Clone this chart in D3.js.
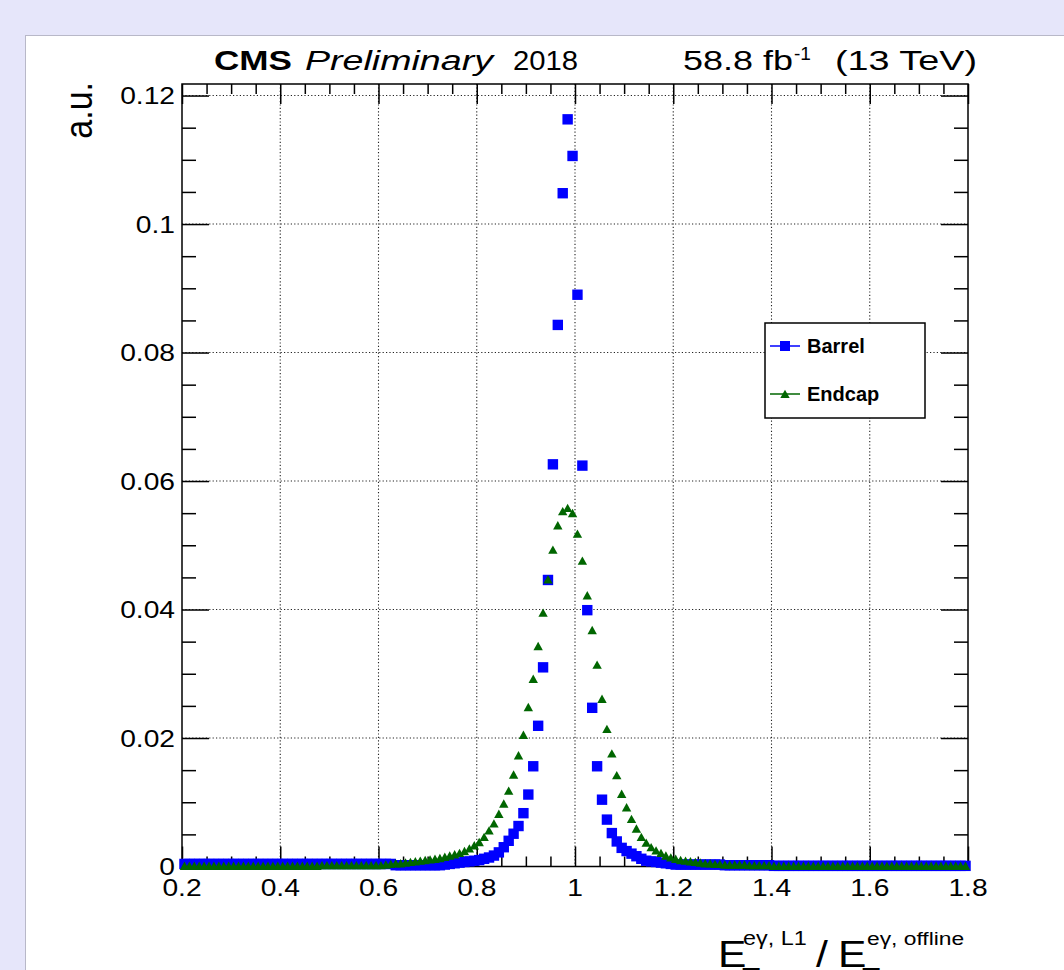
<!DOCTYPE html>
<html>
<head>
<meta charset="utf-8">
<script src="https://cdn.jsdelivr.net/npm/d3@7"></script>
<style>
  body { margin: 0; background: #e6e6fa; }
  svg { display: block; font-family: "Liberation Sans", Arial, sans-serif; }
</style>
</head>
<body>
<svg id="chart" width="1064" height="970"></svg>
<script>
// histogram binning: 160 bins of 0.01 between 0.2 and 1.8
const binLow = 0.2, binWidth = 0.01, nBins = 160;
const binCenters = d3.range(nBins).map(i => binLow + binWidth * (i + 0.5));

// Barrel (blue squares), normalised
const barrel = [
  0.0004, 0.0004, 0.0004, 0.0004, 0.0004, 0.0004, 0.0004, 0.0004, 0.0004, 0.0004,
  0.0004, 0.0004, 0.0004, 0.0004, 0.0004, 0.0004, 0.0004, 0.0004, 0.0004, 0.0004,
  0.0004, 0.0004, 0.0004, 0.0004, 0.0004, 0.0004, 0.0004, 0.0004, 0.0004, 0.0004,
  0.0004, 0.0004, 0.0004, 0.0004, 0.0004, 0.0004, 0.0004, 0.0004, 0.0004, 0.0004,
  0.0004, 0.0004, 0.0004, 0.0002, 0.0002, 0.0002, 0.0002, 0.0002, 0.0002, 0.0002,
  0.0002, 0.0002, 0.0002, 0.0003, 0.0004, 0.0005, 0.0006, 0.0007, 0.0008, 0.0009,
  0.0010, 0.0012, 0.0014, 0.0017, 0.0022, 0.0030, 0.0040, 0.0051, 0.0063, 0.0083,
  0.0112, 0.0156, 0.0219, 0.0310, 0.0446, 0.0626, 0.0843, 0.1048, 0.1163, 0.1106,
  0.0890, 0.0624, 0.0399, 0.0247, 0.0156, 0.0104, 0.0073, 0.0052, 0.0039, 0.0029,
  0.0024, 0.0020, 0.0016, 0.0012, 0.0009, 0.0008, 0.0007, 0.0006, 0.0005, 0.0004,
  0.0003, 0.0003, 0.0003, 0.0003, 0.0003, 0.0003, 0.0003, 0.0003, 0.0003, 0.0003,
  0.0002, 0.0002, 0.0002, 0.0002, 0.0002, 0.0002, 0.0002, 0.0002, 0.0002, 0.0002,
  0.0001, 0.0001, 0.0001, 0.0001, 0.0001, 0.0001, 0.0001, 0.0001, 0.0001, 0.0001,
  0.0001, 0.0001, 0.0001, 0.0001, 0.0001, 0.0001, 0.0001, 0.0001, 0.0001, 0.0001,
  0.0001, 0.0001, 0.0001, 0.0001, 0.0001, 0.0001, 0.0001, 0.0001, 0.0001, 0.0001,
  0.0001, 0.0001, 0.0001, 0.0001, 0.0001, 0.0001, 0.0001, 0.0001, 0.0001, 0.0001
];

// Endcap (green triangles)
const endcap = [
  0.0001, 0.0001, 0.0001, 0.0001, 0.0001, 0.0001, 0.0001, 0.0001, 0.0001, 0.0001,
  0.0001, 0.0001, 0.0001, 0.0001, 0.0001, 0.0001, 0.0001, 0.0001, 0.0001, 0.0001,
  0.0001, 0.0001, 0.0001, 0.0001, 0.0001, 0.0001, 0.0001, 0.0001, 0.0002, 0.0002,
  0.0002, 0.0002, 0.0002, 0.0002, 0.0002, 0.0002, 0.0002, 0.0002, 0.0002, 0.0002,
  0.0002, 0.0003, 0.0004, 0.0005, 0.0005, 0.0006, 0.0007, 0.0008, 0.0009, 0.0010,
  0.0011, 0.0012, 0.0013, 0.0015, 0.0017, 0.0019, 0.0021, 0.0024, 0.0028, 0.0033,
  0.0038, 0.0046, 0.0056, 0.0067, 0.0082, 0.0098, 0.0118, 0.0143, 0.0173, 0.0205,
  0.0248, 0.0292, 0.0343, 0.0395, 0.0447, 0.0493, 0.0531, 0.0553, 0.0558, 0.0550,
  0.0518, 0.0476, 0.0422, 0.0368, 0.0314, 0.0261, 0.0214, 0.0176, 0.0142, 0.0113,
  0.0092, 0.0074, 0.0059, 0.0046, 0.0037, 0.0030, 0.0025, 0.0021, 0.0017, 0.0014,
  0.0012, 0.0010, 0.0009, 0.0008, 0.0007, 0.0006, 0.0005, 0.0005, 0.0004, 0.0004,
  0.0003, 0.0003, 0.0003, 0.0003, 0.0003, 0.0002, 0.0002, 0.0002, 0.0002, 0.0002,
  0.0001, 0.0001, 0.0001, 0.0001, 0.0001, 0.0001, 0.0001, 0.0001, 0.0001, 0.0001,
  0.0001, 0.0001, 0.0001, 0.0001, 0.0001, 0.0001, 0.0001, 0.0001, 0.0001, 0.0001,
  0.0001, 0.0001, 0.0001, 0.0001, 0.0001, 0.0001, 0.0001, 0.0001, 0.0001, 0.0001,
  0.0001, 0.0001, 0.0001, 0.0001, 0.0001, 0.0001, 0.0001, 0.0001, 0.0001, 0.0001
];

const xMajor = [0.2, 0.4, 0.6, 0.8, 1, 1.2, 1.4, 1.6, 1.8];
const xLabels = ["0.2", "0.4", "0.6", "0.8", "1", "1.2", "1.4", "1.6", "1.8"];
const xMinor = d3.range(0.25, 1.8, 0.05).filter(v => Math.abs(v / 0.2 - Math.round(v / 0.2)) > 1e-6);
const yMajor = [0, 0.02, 0.04, 0.06, 0.08, 0.1, 0.12];
const yLabels = ["0", "0.02", "0.04", "0.06", "0.08", "0.1", "0.12"];
const yMinor = d3.range(0.005, 0.1216, 0.005).filter(v => Math.abs(v / 0.02 - Math.round(v / 0.02)) > 1e-6);

const blue = "#0000ff", green = "#006600";
const sx = 1.2; // the picture is stretched sideways

const frame = { left: 182, right: 968, top: 84, bottom: 866.5 };

const svg = d3.select("#chart");

// white canvas
svg.append("rect")
  .attr("x", 25.5).attr("y", 35.5)
  .attr("width", 1040).attr("height", 936)
  .attr("fill", "#fff")
  .attr("stroke", "#b8b8c8");

const x = d3.scaleLinear().domain([0.2, 1.8]).range([frame.left, frame.right]);
const y = d3.scaleLinear().domain([0, 0.1218]).range([frame.bottom, frame.top]);

// stretched text helper
function stext(parent, px, py, str, opts = {}) {
  return parent.append("text")
    .attr("transform", `translate(${px},${py}) scale(${opts.sx || sx},1)` + (opts.rotate ? ` rotate(${opts.rotate})` : ""))
    .attr("text-anchor", opts.anchor || "start")
    .style("font-size", (opts.size || 23.5) + "px")
    .style("font-weight", opts.weight || "normal")
    .style("font-style", opts.style || "normal")
    .attr("fill", "#000")
    .text(str);
}

// text squeezed/stretched to a measured length
function ftext(px, py, str, len, size, weight, style) {
  return svg.append("text")
    .attr("x", px).attr("y", py)
    .attr("textLength", len)
    .attr("lengthAdjust", "spacingAndGlyphs")
    .style("font-size", size + "px")
    .style("font-weight", weight || "normal")
    .style("font-style", style || "normal")
    .attr("fill", "#000")
    .text(str);
}

// grid
const grid = svg.append("g")
  .attr("stroke", "#222")
  .attr("stroke-width", 1.1)
  .attr("stroke-dasharray", "1.2,2.2");
grid.selectAll(".gx").data(xMajor.slice(1, -1)).join("line")
  .attr("x1", d => x(d)).attr("x2", d => x(d))
  .attr("y1", frame.top).attr("y2", frame.bottom);
grid.selectAll(".gy").data(yMajor.slice(1)).join("line")
  .attr("x1", frame.left).attr("x2", frame.right)
  .attr("y1", d => y(d)).attr("y2", d => y(d));

// ticks on all four sides
function ticks(axis, tx, ty, vals, len) {
  const g = svg.append("g")
    .attr("transform", `translate(${tx},${ty})`)
    .call(axis.tickValues(vals).tickSize(-len).tickSizeOuter(0).tickFormat(""));
  g.select(".domain").remove();
  g.selectAll("line").attr("stroke", "#000").attr("stroke-width", 1.5);
}
ticks(d3.axisBottom(x), 0, frame.bottom, xMajor, 20);
ticks(d3.axisBottom(x), 0, frame.bottom, xMinor, 10);
ticks(d3.axisTop(x), 0, frame.top, xMajor, 20);
ticks(d3.axisTop(x), 0, frame.top, xMinor, 10);
ticks(d3.axisLeft(y), frame.left, 0, yMajor, 27);
ticks(d3.axisLeft(y), frame.left, 0, yMinor, 14);
ticks(d3.axisRight(y), frame.right, 0, yMajor, 27);
ticks(d3.axisRight(y), frame.right, 0, yMinor, 14);

// tick labels
xMajor.forEach((v, i) => stext(svg, x(v), 896, xLabels[i], { anchor: "middle" }));
yMajor.forEach((v, i) => stext(svg, 175, y(v) + 8.5, yLabels[i], { anchor: "end" }));

// frame
svg.append("rect")
  .attr("x", frame.left).attr("y", frame.top)
  .attr("width", frame.right - frame.left)
  .attr("height", frame.bottom - frame.top)
  .attr("fill", "none")
  .attr("stroke", "#000")
  .attr("stroke-width", 1.5);

// markers
const triPath = "M-4.7,4.1 L4.7,4.1 L0,-4.3 Z";
svg.append("g").selectAll("rect")
  .data(barrel.map((v, i) => [binCenters[i], v]))
  .join("rect")
  .attr("x", d => x(d[0]) - 5.2).attr("y", d => y(d[1]) - 5.2)
  .attr("width", 10.4).attr("height", 10.4)
  .attr("fill", blue);

svg.append("g").selectAll("path")
  .data(endcap.map((v, i) => [binCenters[i], v]))
  .join("path")
  .attr("transform", d => `translate(${x(d[0])},${y(d[1])})`)
  .attr("d", triPath)
  .attr("fill", green);

// legend
const leg = svg.append("g");
leg.append("rect")
  .attr("x", 765).attr("y", 323)
  .attr("width", 160).attr("height", 95)
  .attr("fill", "#fff").attr("stroke", "#000").attr("stroke-width", 1.5);
const entries = [
  { name: "Barrel", color: blue, cy: 346, shape: "square" },
  { name: "Endcap", color: green, cy: 394, shape: "tri" }
];
entries.forEach(e => {
  leg.append("line")
    .attr("x1", 770).attr("x2", 800)
    .attr("y1", e.cy).attr("y2", e.cy)
    .attr("stroke", e.color).attr("stroke-width", 1.5);
  if (e.shape === "square") {
    leg.append("rect").attr("x", 780).attr("y", e.cy - 5)
      .attr("width", 10).attr("height", 10).attr("fill", e.color);
  } else {
    leg.append("path").attr("transform", `translate(785,${e.cy})`)
      .attr("d", triPath).attr("fill", e.color);
  }
  stext(leg, 807, e.cy + 7, e.name, { size: 20, weight: "bold", sx: 1.0 });
});

// header texts
ftext(214, 70, "CMS", 78, 27, "bold");
ftext(305, 70, "Preliminary", 188, 27, "normal", "italic");
ftext(513, 70, "2018", 65, 27);

ftext(683, 69.5, "58.8 fb", 110, 28);
ftext(794, 60, "-1", 17, 18);
ftext(835, 69.5, "(13 TeV)", 142, 28);

// y title
stext(svg, 92, 82, "a.u.", { size: 34, rotate: -90, anchor: "end", sx: 1.15 });

// x title: E_T^{eγ, L1} / E_T^{eγ, offline}
stext(svg, 718, 967, "E", { size: 37, sx: 1.15 });
stext(svg, 742, 986, "T", { size: 26, sx: 1.15 });
stext(svg, 743, 945, "eγ, L1", { size: 19.5 });
stext(svg, 816, 967, "/", { size: 37, sx: 1.15 });
stext(svg, 838, 967, "E", { size: 37, sx: 1.15 });
stext(svg, 862, 986, "T", { size: 26, sx: 1.15 });
stext(svg, 867, 945, "eγ, offline", { size: 19 });
</script>
</body>
</html>
